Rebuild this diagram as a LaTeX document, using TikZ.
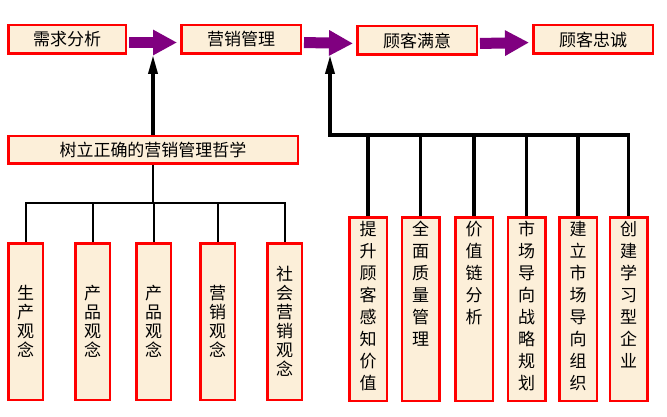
\documentclass[tikz,border=0pt]{standalone}
\usepackage{fontspec}
\setmainfont{Noto Sans CJK SC}
\usetikzlibrary{arrows.meta}
\definecolor{boxfill}{HTML}{FCEFD9}
\definecolor{boxred}{HTML}{FF0000}
\definecolor{arrpurple}{HTML}{800080}
\begin{document}
\begin{tikzpicture}[x=1pt,y=-1pt,
  box/.style={draw=boxred,fill=boxfill,line width=2.5pt,inner sep=0pt,
    font=\fontsize{17}{20}\selectfont},
  hbox/.style={box,minimum height=28.5pt},
  lbox/.style={box,minimum width=34.5pt,minimum height=156.5pt,align=center,
    font=\fontsize{17}{19}\selectfont},
  rbox/.style={box,minimum width=37.5pt,minimum height=183.5pt},
  vtxt/.style={inner sep=0pt,anchor=north,align=center,
    font=\fontsize{17}{22}\selectfont},
  flow/.style={draw=arrpurple,line width=11pt,
    -{Triangle[length=24pt,width=24pt]},shorten <=2pt,shorten >=3pt},
  feed/.style={draw=black,line width=3.5pt,-{Triangle[length=19pt,width=9pt]}},
  thintree/.style={draw=black,line width=2pt},
  thicktree/.style={draw=black,line width=3.5pt}]
\useasboundingbox (0,0) rectangle (667,417);
\fill[white] (0,0) rectangle (667,417);
% top row
\node[hbox,minimum width=117.5pt] (a) at (67,39.5) {需求分析};
\node[hbox,minimum width=119.5pt] (b) at (241,39.5) {营销管理};
\node[hbox,minimum width=119.5pt] (c) at (417,40.5) {顾客满意};
\node[hbox,minimum width=119.5pt] (d) at (593,39.5) {顾客忠诚};
\draw[flow] ([yshift=-3pt]a.east) -- ([yshift=-3pt]b.west);
\draw[flow] ([yshift=-3pt]b.east) -- ([yshift=-3pt]c.west);
\draw[flow] ([yshift=-3pt]c.east) -- ([yshift=-3pt]d.west);
% philosophy
\node[hbox,minimum width=289.5pt,minimum height=27.5pt] (p) at (153,150) {树立正确的营销管理哲学};
\coordinate (tipL) at (153,55);
\draw[feed] (p.north) -- (tipL);
% left concept boxes
\node[lbox] (l1) at (25.5,321.5) {生\\产\\观\\念};
\node[lbox] (l2) at (92.5,321.5) {产\\品\\观\\念};
\node[lbox] (l3) at (153.5,321.5) {产\\品\\观\\念};
\node[lbox] (l4) at (217.5,321.5) {营\\销\\观\\念};
\node[lbox] (l5) at (284.5,321.5) {社\\会\\营\\销\\观\\念};
\coordinate (jL) at (153,203);
\draw[thintree] (p.south) -- (jL);
\draw[thintree] (l1.north) |- (jL) -| (l5.north);
\foreach \n in {l2,l3,l4} \draw[thintree] (\n.north) -- (\n.north |- jL);
% right boxes
\node[rbox] (r1) at (368,309) {};
\node[rbox] (r2) at (420.5,309) {};
\node[rbox] (r3) at (474,309) {};
\node[rbox] (r4) at (526.5,309) {};
\node[rbox] (r5) at (578,309) {};
\node[rbox] (r6) at (628.5,309) {};
\node[vtxt] (t1) at ([yshift=-5pt]r1.north) {提\\升\\顾\\客\\感\\知\\价\\值};
\node[vtxt] (t2) at ([yshift=-5pt]r2.north) {全\\面\\质\\量\\管\\理};
\node[vtxt] (t3) at ([yshift=-5pt]r3.north) {价\\值\\链\\分\\析};
\node[vtxt] (t4) at ([yshift=-5pt]r4.north) {市\\场\\导\\向\\战\\略\\规\\划};
\node[vtxt] (t5) at ([yshift=-5pt]r5.north) {建\\立\\市\\场\\导\\向\\组\\织};
\node[vtxt] (t6) at ([yshift=-5pt]r6.north) {创\\建\\学\\习\\型\\企\\业};
\coordinate (jR) at (330,135);
\coordinate (tipR) at (330,55);
\draw[thicktree,line join=miter] (r6.north) |- (jR);
\foreach \n in {r1,r2,r3,r4,r5} \draw[thicktree] (\n.north) -- (\n.north |- jR);
\draw[feed] ([yshift=-1.75pt]jR) -- (tipR);
\end{tikzpicture}
\end{document}
